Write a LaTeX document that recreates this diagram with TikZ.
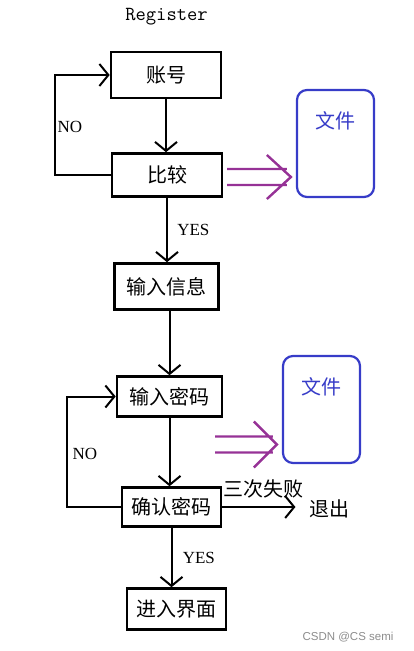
\documentclass[tikz,border=0pt]{standalone}
\usepackage{fontspec}
\newfontfamily\cjk{Noto Sans CJK SC}
\newfontfamily\latinserif{Liberation Serif}
\newfontfamily\wmfont{Liberation Sans}
\usetikzlibrary{arrows.meta,calc}

\definecolor{fileblue}{RGB}{55,60,200}
\definecolor{flowpurple}{RGB}{150,50,150}

\tikzset{
  stepbox/.style={draw, line width=2.6pt, minimum width=104pt, minimum height=42pt,
    font=\cjk\fontsize{20}{20}\selectfont},
  filebox/.style={draw=fileblue, line width=2.2pt, rounded corners=10pt, text=fileblue,
    minimum width=77pt, text height=38pt, text depth=69pt, inner sep=0pt,
    font=\cjk\fontsize{20}{20}\selectfont},
  plain/.style={font=\cjk\fontsize{20}{20}\selectfont},
  tag/.style={font=\latinserif\fontsize{17}{17}\selectfont},
  arr/.style={line width=2pt, -{Straight Barb[length=9pt,width=22pt]}},
  flow/.style={draw=flowpurple, line width=2.4pt}
}

\begin{document}
\begin{tikzpicture}[x=1pt,y=-1pt]
\useasboundingbox (0,0) rectangle (414,651);
\node[font=\ttfamily\fontsize{20}{20}\selectfont] (title) at (166.5,17) {Register};

% main steps
\node[stepbox, minimum width=110pt, minimum height=46pt] (acct) at (166,75) {账号};
\node[stepbox, minimum width=110pt, minimum height=43pt] (cmp) at (167,175) {比较};
\node[stepbox, minimum height=46pt] (info) at (166.5,286.5) {输入信息};
\node[stepbox, minimum width=105pt, minimum height=40pt] (pwd) at (169.5,396.5) {输入密码};
\node[stepbox, minimum width=99pt, minimum height=39pt] (confirm) at (171.5,507) {确认密码};
\node[stepbox, minimum width=99pt, minimum height=41pt] (enter) at (176.5,609) {进入界面};

% files
\node[filebox] (file1) at (335.5,143.5) {文件};
\node[filebox] (file2) at (321.5,409.5) {文件};
\node[plain] (quit) at (329,509) {退出};
\node[font=\wmfont\fontsize{11.5}{11.5}\selectfont, text=black!45] (wm) at (348,637) {CSDN @CS semi};

\draw[arr] (acct.south) -- (acct.south |- cmp.north);
\draw[arr] (cmp.south) -- (cmp.south |- info.north) node[tag, midway, right=6pt] {YES};
\draw[arr] (info.south -| pwd.north) -- (pwd.north);
\draw[arr] (pwd.south) -- (pwd.south |- confirm.north);
\draw[arr] (confirm.south) -- (confirm.south |- enter.north) node[tag, midway, right=7pt] {YES};

\draw[arr] (cmp.west) -- ++(-56,0) |- node[tag, pos=0.24, right, inner sep=2pt] {NO} (acct.west);
\draw[arr] (confirm.west) -- ++(-54,0) |- node[tag, pos=0.24, right, inner sep=5pt] {NO} (pwd.west);

\draw[arr, shorten >=10pt] (confirm.east) -- (confirm.east -| quit.west)
  node[plain, midway, above=4pt] {三次失败};

% purple arrows into the files
\coordinate (s1) at (227,177);
\coordinate (t1) at ($(s1 -| file1.west)+(-5,0)$);
\draw[flow] ([yshift=8pt]s1) -- ([yshift=8pt,xshift=-4pt]t1)
  ([yshift=-8pt]s1) -- ([yshift=-8pt,xshift=-4pt]t1)
  ([shift={(-24pt,22pt)}]t1) -- (t1) -- ([shift={(-24pt,-22pt)}]t1);
\coordinate (s2) at (215,444.5);
\coordinate (t2) at ($(s2 -| file2.west)+(-5,0)$);
\draw[flow] ([yshift=8pt]s2) -- ([yshift=8pt,xshift=-4pt]t2)
  ([yshift=-8pt]s2) -- ([yshift=-8pt,xshift=-4pt]t2)
  ([shift={(-23pt,23pt)}]t2) -- (t2) -- ([shift={(-23pt,-23pt)}]t2);
\end{tikzpicture}
\end{document}
